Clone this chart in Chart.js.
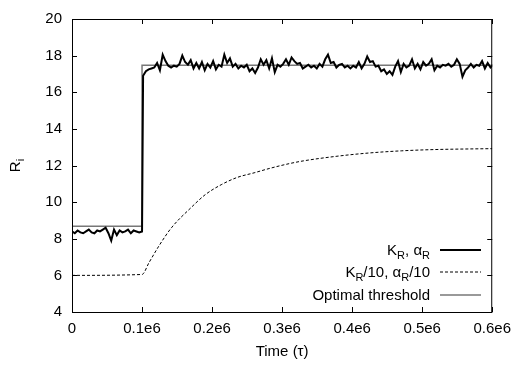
<!DOCTYPE html>
<html>
<head>
<meta charset="utf-8">
<script src="https://cdn.jsdelivr.net/npm/chart.js@4"></script>
<style>
  html, body { margin: 0; padding: 0; background: #fff; }
  #wrap { width: 519px; height: 365px; }
</style>
</head>
<body>
<div id="wrap"><canvas id="chart" width="519" height="365"></canvas></div>
<script>
// Data

// K_R, alpha_R run: sampled every 4000 tau
const sampleStep = 4000;
const preStart = 0;
const preValues = [
  8.4, 8.3, 8.45, 8.35, 8.3, 8.4, 8.5, 8.35, 8.3, 8.45,
  8.4, 8.5, 8.6, 8.3, 7.9, 8.5, 8.2, 8.45, 8.35, 8.4,
  8.5, 8.3, 8.45, 8.4, 8.35, 8.4
];
const postStart = 101500;
const postValues = [
  16.9, 17.15, 17.25, 17.3, 17.35, 17.6, 17.2, 18.05, 17.7, 17.45,
  17.35, 17.45, 17.4, 17.55, 18.0, 17.65, 17.5, 17.75, 17.3, 17.6,
  17.3, 17.65, 17.2, 17.55, 17.35, 17.7, 17.25, 17.5, 17.4, 18.05,
  17.6, 17.85, 17.4, 17.55, 17.3, 17.45, 17.35, 17.5, 17.15, 17.3,
  17.05, 17.35, 17.8, 17.5, 17.75, 17.3, 17.85, 17.1, 17.5, 17.4,
  17.55, 17.8, 17.5, 17.9, 17.7, 17.55, 17.6, 17.3, 17.4, 17.5,
  17.35, 17.45, 17.3, 17.55, 17.4, 17.8, 18.05, 17.6, 17.65, 17.35,
  17.5, 17.55, 17.35, 17.45, 17.3, 17.45, 17.35, 17.65, 17.3, 17.55,
  17.95, 17.65, 17.7, 17.4, 17.45, 17.15, 17.25, 17.0, 17.15, 16.95,
  17.4, 17.7, 17.1, 17.55, 17.35, 17.45, 17.8, 17.3, 17.55, 17.25,
  17.65, 17.45, 17.55, 17.8, 17.2, 17.45, 17.35, 17.5, 17.45, 17.55,
  17.4, 17.5, 17.8, 17.55, 16.85, 17.2, 17.35, 17.55, 17.35, 17.5,
  17.45, 17.7, 17.3, 17.6, 17.35, 17.5
];

// K_R/10, alpha_R/10 run (smooth)
const slowTimes = [0, 100000, 110000, 124000, 142000, 170000, 190000, 213000, 236000, 260000,
  283000, 310000, 330000, 377000, 423000, 470000, 517000, 560000, 600000];
const slowValues = [6.0, 6.05, 6.7, 7.6, 8.6, 9.7, 10.4, 10.95, 11.35, 11.6,
  11.85, 12.1, 12.25, 12.5, 12.68, 12.8, 12.87, 12.9, 12.92];

// Optimal threshold (step)
const thresholdTimes = [0, 100000, 100000, 600000];
const thresholdValues = [8.68, 8.68, 17.47, 17.47];

// Axes
const xTicks = [0, 100000, 200000, 300000, 400000, 500000, 600000];
const xTickLabels = ['0', '0.1e6', '0.2e6', '0.3e6', '0.4e6', '0.5e6', '0.6e6'];
const yTicks = [4, 6, 8, 10, 12, 14, 16, 18, 20];

function toPoints(xs, ys) {
  return ys.map((y, i) => ({ x: xs[i], y: y }));
}

const fastPoints = preValues.map((v, i) => ({ x: preStart + i * sampleStep, y: v }))
  .concat(postValues.map((v, i) => ({ x: postStart + i * sampleStep, y: v })));

const FONT = '"Liberation Sans", Arial, Helvetica, sans-serif';

// Draw text with subscript parts, e.g. [['K',0],['R',1],[', ',0]]
function richWidth(ctx, parts, size, subSize) {
  let w = 0;
  parts.forEach(([t, sub]) => {
    ctx.font = (sub ? subSize : size) + 'px ' + FONT;
    w += ctx.measureText(t).width;
  });
  return w;
}

function drawRich(ctx, parts, x, y, size, subSize, align) {
  const w = richWidth(ctx, parts, size, subSize);
  let cx = align === 'right' ? x - w : (align === 'center' ? x - w / 2 : x);
  ctx.textBaseline = 'alphabetic';
  ctx.textAlign = 'left';
  parts.forEach(([t, sub]) => {
    ctx.font = (sub ? subSize : size) + 'px ' + FONT;
    ctx.fillText(t, cx, sub ? y + 4 : y);
    cx += ctx.measureText(t).width;
  });
}

const alpha = '\u03B1';

const legendRows = [
  { parts: [['K', 0], ['R', 1], [', ' + alpha, 0], ['R', 1]], color: '#000', width: 2, dash: [] },
  { parts: [['K', 0], ['R', 1], ['/10, ' + alpha, 0], ['R', 1], ['/10', 0]], color: '#000', width: 1, dash: [3, 2] },
  { parts: [['Optimal threshold', 0]], color: '#777', width: 1.5, dash: [] }
];

const framePlugin = {
  id: 'frame',
  afterDraw(chart) {
    const ctx = chart.ctx;
    const a = chart.chartArea;
    const xs = chart.scales.x, ys = chart.scales.y;
    ctx.save();
    ctx.strokeStyle = '#000';
    ctx.lineWidth = 1;
    ctx.setLineDash([]);
    // box
    ctx.strokeRect(a.left + 0.5, a.top + 0.5, a.right - a.left - 1, a.bottom - a.top);
    // inward ticks
    const tl = 5;
    ctx.beginPath();
    xTicks.forEach(v => {
      const px = Math.round(xs.getPixelForValue(v)) + 0.5;
      ctx.moveTo(px, a.bottom); ctx.lineTo(px, a.bottom - tl);
      ctx.moveTo(px, a.top); ctx.lineTo(px, a.top + tl);
    });
    yTicks.forEach(v => {
      const py = Math.round(ys.getPixelForValue(v)) + 0.5;
      ctx.moveTo(a.left, py); ctx.lineTo(a.left + tl, py);
      ctx.moveTo(a.right, py); ctx.lineTo(a.right - tl, py);
    });
    ctx.stroke();

    // axis titles
    ctx.fillStyle = '#000';
    drawRich(ctx, [['Time (\u03C4)', 0]], (a.left + a.right) / 2, 356, 15, 11, 'center');
    ctx.save();
    ctx.translate(20, (a.top + a.bottom) / 2);
    ctx.rotate(-Math.PI / 2);
    drawRich(ctx, [['R', 0], ['i', 1]], 0, 0, 15, 11, 'center');
    ctx.restore();

    // legend
    const textRight = 430, lineL = 440, lineR = 481;
    const rowY = [255, 277, 300];
    legendRows.forEach((row, i) => {
      ctx.fillStyle = '#000';
      drawRich(ctx, row.parts, textRight, rowY[i], 15, 11, 'right');
      ctx.beginPath();
      ctx.strokeStyle = row.color;
      ctx.lineWidth = row.width;
      ctx.setLineDash(row.dash);
      ctx.moveTo(lineL, rowY[i] - 5);
      ctx.lineTo(lineR, rowY[i] - 5);
      ctx.stroke();
    });
    ctx.restore();
  }
};

Chart.defaults.font.family = FONT;
Chart.defaults.font.size = 15;
Chart.defaults.color = '#000';

new Chart(document.getElementById('chart').getContext('2d'), {
  type: 'line',
  data: {
    datasets: [
      {
        label: 'K_R, alpha_R',
        data: fastPoints,
        borderColor: '#000',
        borderWidth: 2,
        pointRadius: 0,
        tension: 0,
        order: 0
      },
      {
        label: 'K_R/10, alpha_R/10',
        data: toPoints(slowTimes, slowValues),
        borderColor: '#000',
        borderWidth: 1,
        borderDash: [3, 2],
        pointRadius: 0,
        cubicInterpolationMode: 'monotone',
        order: 1
      },
      {
        label: 'Optimal threshold',
        data: toPoints(thresholdTimes, thresholdValues),
        borderColor: '#777',
        borderWidth: 1.5,
        pointRadius: 0,
        tension: 0,
        order: 2
      }
    ]
  },
  options: {
    responsive: false,
    animation: false,
    layout: { padding: { top: 6, right: 20, left: 0, bottom: 0 } },
    plugins: {
      legend: { display: false },
      tooltip: { enabled: false }
    },
    scales: {
      x: {
        type: 'linear',
        min: 0,
        max: 600000,
        afterBuildTicks: s => { s.ticks = xTicks.map(v => ({ value: v })); },
        afterFit: s => { s.height = 53; },
        grid: { display: false, drawTicks: false },
        border: { display: false },
        ticks: {
          padding: 8,
          maxRotation: 0,
          autoSkip: false,
          callback: (v) => xTickLabels[xTicks.indexOf(v)]
        }
      },
      y: {
        min: 4,
        max: 20,
        afterBuildTicks: s => { s.ticks = yTicks.map(v => ({ value: v })); },
        afterFit: s => { s.width = 72; },
        grid: { display: false, drawTicks: false },
        border: { display: false },
        ticks: { padding: 10, autoSkip: false }
      }
    }
  },
  plugins: [framePlugin]
});
</script>
</body>
</html>
